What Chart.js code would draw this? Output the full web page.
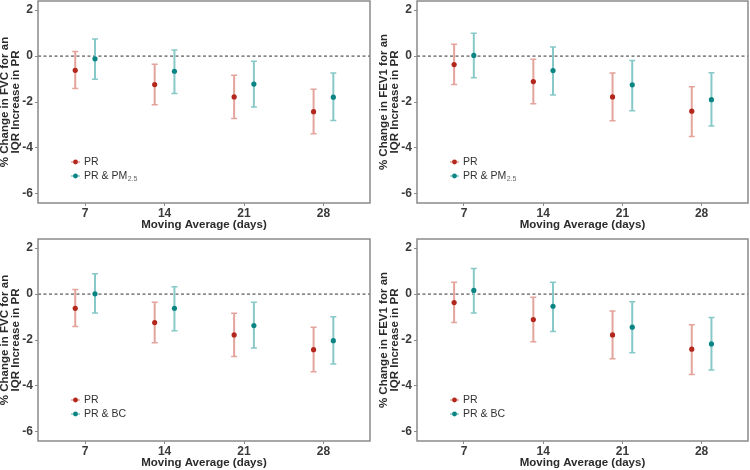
<!DOCTYPE html>
<html>
<head>
<meta charset="utf-8">
<script src="https://cdn.jsdelivr.net/npm/chart.js@4.4.1/dist/chart.umd.min.js"></script>
<style>
  html,body{margin:0;padding:0;background:#fff;}
  #wrap{position:relative;width:750px;height:470px;overflow:hidden;background:#fff;}
  #wrap canvas{position:absolute;}
</style>
</head>
<body>
<div id="wrap">
  <canvas id="c-fvc-pm"  width="372" height="232" style="left:0;top:0"></canvas>
  <canvas id="c-fev1-pm" width="371" height="232" style="left:379px;top:0"></canvas>
  <canvas id="c-fvc-bc"  width="372" height="232" style="left:0;top:238px"></canvas>
  <canvas id="c-fev1-bc" width="371" height="232" style="left:379px;top:238px"></canvas>
</div>
<script>
// PR effect estimates (% change per IQR) with 95% CI, by moving average window

const days = [7, 14, 21, 28];
const yTicks = [2, 0, -2, -4, -6];

// single-pollutant PR model
const prFvcEst   = [-0.62, -1.24, -1.78, -2.42];
const prFvcLow   = [-1.41, -2.12, -2.72, -3.38];
const prFvcHigh  = [ 0.20, -0.36, -0.84, -1.44];
const prFev1Est  = [-0.37, -1.11, -1.78, -2.40];
const prFev1Low  = [-1.24, -2.08, -2.82, -3.50];
const prFev1High = [ 0.52, -0.14, -0.74, -1.34];

// PR adjusted for PM2.5
const pmFvcEst   = [-0.12, -0.66, -1.22, -1.79];
const pmFvcLow   = [-1.01, -1.63, -2.22, -2.81];
const pmFvcHigh  = [ 0.75,  0.27, -0.23, -0.74];
const pmFev1Est  = [ 0.03, -0.63, -1.25, -1.90];
const pmFev1Low  = [-0.94, -1.69, -2.38, -3.05];
const pmFev1High = [ 0.99,  0.40, -0.19, -0.73];

// PR adjusted for BC
const bcFvcEst   = [ 0.01, -0.62, -1.37, -2.03];
const bcFvcLow   = [-0.82, -1.60, -2.35, -3.05];
const bcFvcHigh  = [ 0.89,  0.32, -0.36, -0.99];
const bcFev1Est  = [ 0.16, -0.53, -1.44, -2.17];
const bcFev1Low  = [-0.82, -1.63, -2.56, -3.31];
const bcFev1High = [ 1.11,  0.52, -0.33, -1.02];

const DODGE = 0.87;
const FONT = "'Liberation Sans', Arial, sans-serif";
const RED = '#b3271d', RED_BAR = '#e4a39b';
const TEAL = '#0b8584', TEAL_BAR = '#86c9c8';

const errorBars = {
  id: 'errorBars',
  beforeDatasetsDraw(chart){
    const {ctx, chartArea, scales:{x, y}} = chart;
    // zero reference line
    const y0 = y.getPixelForValue(0);
    ctx.save();
    ctx.strokeStyle = '#333';
    ctx.lineWidth = 1;
    ctx.setLineDash([3, 2.5]);
    ctx.beginPath(); ctx.moveTo(chartArea.left, y0); ctx.lineTo(chartArea.right, y0); ctx.stroke();
    ctx.restore();

    chart.data.datasets.forEach(ds => {
      ctx.save();
      ctx.strokeStyle = ds.barColor;
      ds.data.forEach((p,i) => {
        const px = x.getPixelForValue(p.x);
        const yl = y.getPixelForValue(ds.lows[i]);
        const yh = y.getPixelForValue(ds.highs[i]);
        ctx.lineWidth = 2;
        ctx.beginPath(); ctx.moveTo(px, yl); ctx.lineTo(px, yh); ctx.stroke();
        ctx.lineWidth = 1.5;
        ctx.beginPath();
        ctx.moveTo(px-3, yl); ctx.lineTo(px+3, yl);
        ctx.moveTo(px-3, yh); ctx.lineTo(px+3, yh);
        ctx.stroke();
      });
      ctx.restore();
    });
  },
  afterDatasetsDraw(chart){
    const {ctx, chartArea:a} = chart;
    // legend inside panel, bottom-left
    chart.data.datasets.forEach((ds,i) => {
      const ly = a.bottom - 41 + i*14;
      const lx = a.left + 33;
      ctx.save();
      ctx.strokeStyle = ds.barColor;
      ctx.lineWidth = 1.5;
      ctx.beginPath(); ctx.moveTo(lx, ly); ctx.lineTo(lx+9, ly); ctx.stroke();
      ctx.fillStyle = ds.pointBackgroundColor;
      ctx.beginPath(); ctx.arc(lx+4.5, ly, 2.4, 0, Math.PI*2); ctx.fill();
      ctx.fillStyle = '#333';
      ctx.font = '10.5px ' + FONT;
      ctx.textBaseline = 'middle';
      ctx.fillText(ds.label, lx+13, ly);
      if(ds.labelSub){
        const w = ctx.measureText(ds.label).width;
        ctx.font = '7px ' + FONT;
        ctx.fillStyle = '#666';
        ctx.fillText(ds.labelSub, lx+13+w+0.5, ly+3);
      }
      ctx.restore();
    });
    // panel border
    ctx.save();
    ctx.strokeStyle = '#8a8a8a';
    ctx.lineWidth = 1.5;
    ctx.strokeRect(a.left, a.top, a.right-a.left, a.bottom-a.top);
    ctx.restore();
  }
};

function series(label, sub, est, low, high, shift, color, barColor){
  return {
    label, labelSub: sub,
    data: days.map((d,i) => ({x: d + shift, y: est[i]})),
    lows: low, highs: high,
    barColor,
    showLine: false,
    pointRadius: 2.6,
    pointBackgroundColor: color,
    pointBorderWidth: 0,
    pointBorderColor: color
  };
}

function makePanel(id, outcome, adjLabel, adjSub, pr, adj){
  const tickFont = {family: FONT, size: 12, weight: 'bold'};
  new Chart(document.getElementById(id), {
    type: 'scatter',
    data: {
      datasets: [
        series('PR', null, pr[0], pr[1], pr[2], -DODGE, RED, RED_BAR),
        series(adjLabel, adjSub, adj[0], adj[1], adj[2], DODGE, TEAL, TEAL_BAR)
      ]
    },
    options: {
      responsive: false,
      animation: false,
      devicePixelRatio: 1,
      layout: { autoPadding: false, padding: {top: 1, right: 2, left: 0, bottom: 0} },
      plugins: { legend: {display: false}, tooltip: {enabled: false} },
      scales: {
        x: {
          type: 'linear', min: 2.85, max: 32.1,
          afterBuildTicks: s => { s.ticks = days.map(v => ({value: v})); },
          afterFit: s => { s.height = 29; s.paddingLeft = 0; s.paddingRight = 0; },
          grid: {drawOnChartArea: false, tickLength: 3, color: '#8a8a8a'},
          border: {display: false},
          ticks: {font: tickFont, color: '#3a3a3a', padding: 0, maxRotation: 0},
          title: {display: true, text: 'Moving Average (days)', color: '#2b2b2b',
                  font: {family: FONT, size: 11.5, weight: 'bold'}, padding: {top: 0, bottom: 0}}
        },
        y: {
          min: -6.4, max: 2.4,
          afterBuildTicks: s => { s.ticks = yTicks.map(v => ({value: v})); },
          afterFit: s => { s.width = 38; s.paddingTop = 0; s.paddingBottom = 0; },
          grid: {drawOnChartArea: false, tickLength: 3, color: '#8a8a8a'},
          border: {display: false},
          ticks: {font: tickFont, color: '#3a3a3a', padding: 2},
          title: {display: true, color: '#2b2b2b',
                  text: ['% Change in ' + outcome + ' for an', 'IQR Increase in PR'],
                  font: {family: FONT, size: 11.5, weight: 'bold', lineHeight: '10.5px'},
                  padding: {top: 0, bottom: 0}}
        }
      }
    },
    plugins: [errorBars]
  });
}

makePanel('c-fvc-pm',  'FVC',  'PR & PM', '2.5', [prFvcEst, prFvcLow, prFvcHigh],   [pmFvcEst, pmFvcLow, pmFvcHigh]);
makePanel('c-fev1-pm', 'FEV1', 'PR & PM', '2.5', [prFev1Est, prFev1Low, prFev1High], [pmFev1Est, pmFev1Low, pmFev1High]);
makePanel('c-fvc-bc',  'FVC',  'PR & BC', null,  [prFvcEst, prFvcLow, prFvcHigh],   [bcFvcEst, bcFvcLow, bcFvcHigh]);
makePanel('c-fev1-bc', 'FEV1', 'PR & BC', null,  [prFev1Est, prFev1Low, prFev1High], [bcFev1Est, bcFev1Low, bcFev1High]);
</script>
</body>
</html>
